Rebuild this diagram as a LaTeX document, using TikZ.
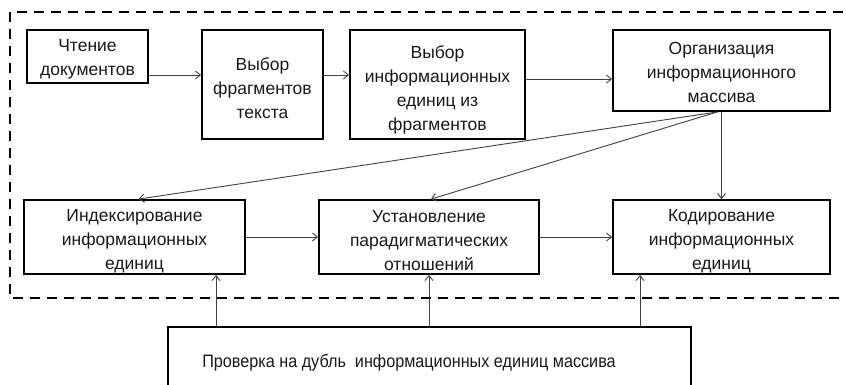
\documentclass[tikz,border=0pt]{standalone}
\usepackage{fontspec}
\setmainfont{Liberation Sans}
\newfontfamily\narrowsans{Liberation Sans}[FakeStretch=0.9]
\usetikzlibrary{arrows.meta,calc}
\begin{document}
\begin{tikzpicture}[x=1pt,y=-1pt,
  box/.style={draw=black, line width=1.8pt, inner sep=0pt},
  txt/.style={inner sep=0pt, align=center,
    font=\fontsize{17.5}{24}\selectfont, text=black!90},
  arr/.style={draw=black!75, line width=0.9pt,
    -{Straight Barb[length=5pt,width=8pt]}},
  frame/.style={draw=black, line width=2pt, dash pattern=on 10pt off 7pt}]
\useasboundingbox (0,0) rectangle (846,384);
\clip (0,0) rectangle (846,384);

% outer dashed frame (runs past the right edge)
\draw[frame] (10,12) rectangle (880,298);

% upper row
\node[box, minimum width=121, minimum height=53] (n1) at (87.5,56.5) {};
\node[box, minimum width=121, minimum height=109] (n2) at (262.5,84.5) {};
\node[box, minimum width=175, minimum height=109] (n3) at (437.5,84.5) {};
\node[box, minimum width=217, minimum height=81] (n4) at (721.5,70.5) {};

% lower row
\node[box, minimum width=221, minimum height=74] (n5) at (134.5,237) {};
\node[box, minimum width=220, minimum height=74] (n6) at (429,237) {};
\node[box, minimum width=217, minimum height=74] (n7) at (721.5,237) {};

% bottom box (continues below the lower edge)
\node[box, minimum width=523, minimum height=82] (n8) at (429.5,368) {};

% box captions
\node[txt] (t1) at ([yshift=-3pt]n1.center) {Чтение\\документов};
\node[txt] (t2) at ([yshift=-4pt]n2.center) {Выбор\\фрагментов\\текста};
\node[txt] (t3) at ([yshift=-5pt]n3.center)
  {Выбор\\информационных\\единиц из\\фрагментов};
\node[txt] (t4) at ([yshift=-2pt]n4.center)
  {Организация\\информационного\\массива};
\node[txt] (t5) at ([yshift=-4pt]n5.center)
  {Индексирование\\информационных\\единиц};
\node[txt] (t6) at ([yshift=-4pt]n6.center)
  {Установление\\парадигматических\\отношений};
\node[txt] (t7) at ([yshift=-4pt]n7.center)
  {Кодирование\\информационных\\единиц};
\node[txt, anchor=base west, font=\narrowsans\fontsize{18}{24}\selectfont]
  (t8) at ($(n8.north west)+(35,41)$)
  {Проверка на дубль \ информационных единиц массива};

% levels of the horizontal connectors
\coordinate (ra) at (0,75);
\coordinate (rb) at (0,79);

\draw[arr] (n1.east |- ra) -- (n2.west |- ra);
\draw[arr] (n2.east |- ra) -- (n3.west |- ra);
\draw[arr] (n3.east |- rb) -- (n4.west |- rb);
\draw[arr] (n5) -- (n6);
\draw[arr] (n6) -- (n7);

% from the organisation box downwards
\draw[arr] ([xshift=-4pt]n4.south) -- ([xshift=4pt]n5.north);
\draw[arr] ([xshift=-4pt]n4.south) -- ([xshift=2pt]n6.north);
\draw[arr] (n4.south) -- (n7.north);

% checks feeding the lower row
\coordinate (ca) at (216,0);
\coordinate (cb) at (429,0);
\coordinate (cc) at (640,0);
\draw[arr] (n8.north -| ca) -- (n5.south -| ca);
\draw[arr] (n8.north -| cb) -- (n6.south -| cb);
\draw[arr] (n8.north -| cc) -- (n7.south -| cc);
\end{tikzpicture}
\end{document}
